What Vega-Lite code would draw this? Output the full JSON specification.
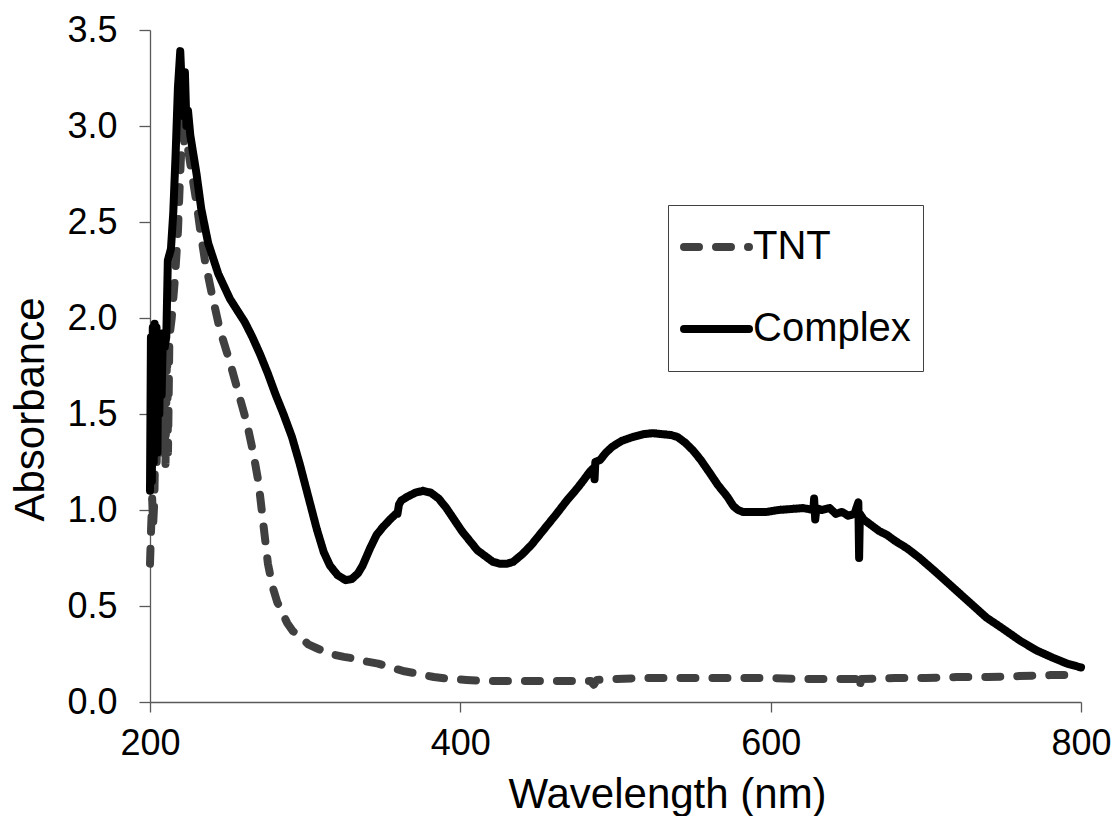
{
  "$schema": "https://vega.github.io/schema/vega-lite/v6.json",
  "width": 931,
  "height": 672,
  "autosize": "none",
  "padding": {"left": 150, "top": 30, "right": 36, "bottom": 114},
  "background": "white",
  "config": {
    "view": {"stroke": null},
    "font": "Liberation Sans",
    "axis": {
      "grid": false,
      "domainColor": "#595959",
      "domainWidth": 1.3,
      "tickColor": "#595959",
      "tickWidth": 1.3,
      "labelFont": "Liberation Sans",
      "labelFontSize": 36,
      "labelColor": "#000000",
      "labelFlush": false,
      "titleFont": "Liberation Sans",
      "titleFontSize": 42,
      "titleFontWeight": "normal",
      "titleColor": "#000000"
    }
  },
  "data": {
    "values": [
      {"s": "TNT", "wl": 200, "a": 0.72},
      {"s": "TNT", "wl": 200.7, "a": 0.9},
      {"s": "TNT", "wl": 201.4, "a": 1.06},
      {"s": "TNT", "wl": 202, "a": 0.92},
      {"s": "TNT", "wl": 202.8, "a": 1.05},
      {"s": "TNT", "wl": 203.5, "a": 1.45},
      {"s": "TNT", "wl": 204.3, "a": 1.25},
      {"s": "TNT", "wl": 205, "a": 1.65},
      {"s": "TNT", "wl": 206, "a": 1.3},
      {"s": "TNT", "wl": 207, "a": 1.8},
      {"s": "TNT", "wl": 208, "a": 1.28},
      {"s": "TNT", "wl": 209, "a": 1.86},
      {"s": "TNT", "wl": 210, "a": 1.24},
      {"s": "TNT", "wl": 211, "a": 1.86},
      {"s": "TNT", "wl": 211.6, "a": 1.3},
      {"s": "TNT", "wl": 212.5, "a": 1.9},
      {"s": "TNT", "wl": 214, "a": 2.0},
      {"s": "TNT", "wl": 216, "a": 2.2},
      {"s": "TNT", "wl": 218, "a": 2.45},
      {"s": "TNT", "wl": 219, "a": 2.66},
      {"s": "TNT", "wl": 220, "a": 2.85},
      {"s": "TNT", "wl": 221, "a": 3.02},
      {"s": "TNT", "wl": 222, "a": 2.92},
      {"s": "TNT", "wl": 223, "a": 2.97},
      {"s": "TNT", "wl": 224.5, "a": 2.88},
      {"s": "TNT", "wl": 227, "a": 2.75},
      {"s": "TNT", "wl": 230, "a": 2.6},
      {"s": "TNT", "wl": 232.5, "a": 2.45},
      {"s": "TNT", "wl": 235.4, "a": 2.3},
      {"s": "TNT", "wl": 240, "a": 2.12},
      {"s": "TNT", "wl": 245, "a": 1.94},
      {"s": "TNT", "wl": 251.5, "a": 1.77},
      {"s": "TNT", "wl": 257, "a": 1.61},
      {"s": "TNT", "wl": 262.5, "a": 1.45},
      {"s": "TNT", "wl": 266.5, "a": 1.3},
      {"s": "TNT", "wl": 270, "a": 1.14},
      {"s": "TNT", "wl": 273, "a": 0.93},
      {"s": "TNT", "wl": 276, "a": 0.72},
      {"s": "TNT", "wl": 279, "a": 0.6},
      {"s": "TNT", "wl": 282, "a": 0.52},
      {"s": "TNT", "wl": 285, "a": 0.47},
      {"s": "TNT", "wl": 288.5, "a": 0.41},
      {"s": "TNT", "wl": 292, "a": 0.37},
      {"s": "TNT", "wl": 297, "a": 0.34},
      {"s": "TNT", "wl": 302, "a": 0.3},
      {"s": "TNT", "wl": 307.5, "a": 0.28},
      {"s": "TNT", "wl": 316, "a": 0.25},
      {"s": "TNT", "wl": 325, "a": 0.235},
      {"s": "TNT", "wl": 333, "a": 0.225},
      {"s": "TNT", "wl": 340, "a": 0.21},
      {"s": "TNT", "wl": 347, "a": 0.2},
      {"s": "TNT", "wl": 355, "a": 0.18},
      {"s": "TNT", "wl": 364, "a": 0.16},
      {"s": "TNT", "wl": 374, "a": 0.145},
      {"s": "TNT", "wl": 383, "a": 0.13},
      {"s": "TNT", "wl": 393, "a": 0.12},
      {"s": "TNT", "wl": 404, "a": 0.115},
      {"s": "TNT", "wl": 415, "a": 0.11},
      {"s": "TNT", "wl": 430, "a": 0.11},
      {"s": "TNT", "wl": 450, "a": 0.11},
      {"s": "TNT", "wl": 470, "a": 0.11},
      {"s": "TNT", "wl": 484, "a": 0.11},
      {"s": "TNT", "wl": 486, "a": 0.09},
      {"s": "TNT", "wl": 488, "a": 0.115},
      {"s": "TNT", "wl": 500, "a": 0.12},
      {"s": "TNT", "wl": 520, "a": 0.125},
      {"s": "TNT", "wl": 540, "a": 0.125},
      {"s": "TNT", "wl": 560, "a": 0.125},
      {"s": "TNT", "wl": 580, "a": 0.125},
      {"s": "TNT", "wl": 600, "a": 0.125},
      {"s": "TNT", "wl": 620, "a": 0.12},
      {"s": "TNT", "wl": 640, "a": 0.12},
      {"s": "TNT", "wl": 655.5, "a": 0.12},
      {"s": "TNT", "wl": 657, "a": 0.07},
      {"s": "TNT", "wl": 658.5, "a": 0.12},
      {"s": "TNT", "wl": 680, "a": 0.125},
      {"s": "TNT", "wl": 700, "a": 0.125},
      {"s": "TNT", "wl": 720, "a": 0.13},
      {"s": "TNT", "wl": 740, "a": 0.13},
      {"s": "TNT", "wl": 760, "a": 0.135},
      {"s": "TNT", "wl": 780, "a": 0.14},
      {"s": "TNT", "wl": 800, "a": 0.14},
      {"s": "Complex", "wl": 200, "a": 1.1},
      {"s": "Complex", "wl": 200.6, "a": 1.9},
      {"s": "Complex", "wl": 201.2, "a": 1.15},
      {"s": "Complex", "wl": 201.8, "a": 1.95},
      {"s": "Complex", "wl": 202.4, "a": 1.25},
      {"s": "Complex", "wl": 203, "a": 1.97},
      {"s": "Complex", "wl": 203.6, "a": 1.35},
      {"s": "Complex", "wl": 204.2, "a": 1.95},
      {"s": "Complex", "wl": 204.8, "a": 1.3},
      {"s": "Complex", "wl": 205.4, "a": 1.92},
      {"s": "Complex", "wl": 206, "a": 1.5},
      {"s": "Complex", "wl": 206.6, "a": 1.9},
      {"s": "Complex", "wl": 207.5, "a": 1.6},
      {"s": "Complex", "wl": 208.3, "a": 1.92},
      {"s": "Complex", "wl": 209.5, "a": 1.85},
      {"s": "Complex", "wl": 210.5, "a": 1.9},
      {"s": "Complex", "wl": 211.5, "a": 2.3},
      {"s": "Complex", "wl": 212.5, "a": 2.33},
      {"s": "Complex", "wl": 213.5, "a": 2.36},
      {"s": "Complex", "wl": 215, "a": 2.55},
      {"s": "Complex", "wl": 216.5, "a": 2.85},
      {"s": "Complex", "wl": 218, "a": 3.2},
      {"s": "Complex", "wl": 219.5, "a": 3.39},
      {"s": "Complex", "wl": 220.5, "a": 3.2},
      {"s": "Complex", "wl": 221.5, "a": 3.05},
      {"s": "Complex", "wl": 222.5, "a": 3.28},
      {"s": "Complex", "wl": 223.5, "a": 3.0},
      {"s": "Complex", "wl": 224.5, "a": 3.08},
      {"s": "Complex", "wl": 226, "a": 2.95},
      {"s": "Complex", "wl": 228, "a": 2.85},
      {"s": "Complex", "wl": 230, "a": 2.75},
      {"s": "Complex", "wl": 233, "a": 2.57},
      {"s": "Complex", "wl": 237.5, "a": 2.39},
      {"s": "Complex", "wl": 244, "a": 2.23},
      {"s": "Complex", "wl": 251.5, "a": 2.1},
      {"s": "Complex", "wl": 257, "a": 2.03},
      {"s": "Complex", "wl": 261, "a": 1.98},
      {"s": "Complex", "wl": 266, "a": 1.9},
      {"s": "Complex", "wl": 271, "a": 1.81},
      {"s": "Complex", "wl": 276, "a": 1.71},
      {"s": "Complex", "wl": 281, "a": 1.6},
      {"s": "Complex", "wl": 286, "a": 1.5},
      {"s": "Complex", "wl": 291.5, "a": 1.38},
      {"s": "Complex", "wl": 296.5, "a": 1.24},
      {"s": "Complex", "wl": 302, "a": 1.07},
      {"s": "Complex", "wl": 307.5, "a": 0.9},
      {"s": "Complex", "wl": 312, "a": 0.78},
      {"s": "Complex", "wl": 316, "a": 0.71},
      {"s": "Complex", "wl": 321, "a": 0.66},
      {"s": "Complex", "wl": 326, "a": 0.635},
      {"s": "Complex", "wl": 330, "a": 0.64},
      {"s": "Complex", "wl": 334, "a": 0.67},
      {"s": "Complex", "wl": 337, "a": 0.71},
      {"s": "Complex", "wl": 341.8, "a": 0.8},
      {"s": "Complex", "wl": 346, "a": 0.87},
      {"s": "Complex", "wl": 350, "a": 0.91},
      {"s": "Complex", "wl": 354.6, "a": 0.95},
      {"s": "Complex", "wl": 358.5, "a": 0.98},
      {"s": "Complex", "wl": 359.5, "a": 0.98},
      {"s": "Complex", "wl": 360.5, "a": 1.03},
      {"s": "Complex", "wl": 362, "a": 1.05},
      {"s": "Complex", "wl": 366, "a": 1.07},
      {"s": "Complex", "wl": 371, "a": 1.09},
      {"s": "Complex", "wl": 376, "a": 1.1},
      {"s": "Complex", "wl": 381, "a": 1.09},
      {"s": "Complex", "wl": 386, "a": 1.06},
      {"s": "Complex", "wl": 391, "a": 1.01},
      {"s": "Complex", "wl": 396, "a": 0.95},
      {"s": "Complex", "wl": 401, "a": 0.89},
      {"s": "Complex", "wl": 406, "a": 0.84},
      {"s": "Complex", "wl": 411, "a": 0.79},
      {"s": "Complex", "wl": 416, "a": 0.76},
      {"s": "Complex", "wl": 421, "a": 0.73},
      {"s": "Complex", "wl": 425.5, "a": 0.72},
      {"s": "Complex", "wl": 430, "a": 0.72},
      {"s": "Complex", "wl": 434, "a": 0.73},
      {"s": "Complex", "wl": 440, "a": 0.77},
      {"s": "Complex", "wl": 446, "a": 0.82},
      {"s": "Complex", "wl": 451, "a": 0.87},
      {"s": "Complex", "wl": 456, "a": 0.92},
      {"s": "Complex", "wl": 462, "a": 0.98},
      {"s": "Complex", "wl": 468.7, "a": 1.05},
      {"s": "Complex", "wl": 474, "a": 1.1},
      {"s": "Complex", "wl": 478, "a": 1.14},
      {"s": "Complex", "wl": 483.5, "a": 1.2},
      {"s": "Complex", "wl": 486, "a": 1.22},
      {"s": "Complex", "wl": 486.5, "a": 1.16},
      {"s": "Complex", "wl": 487, "a": 1.25},
      {"s": "Complex", "wl": 490, "a": 1.26},
      {"s": "Complex", "wl": 494, "a": 1.3},
      {"s": "Complex", "wl": 498, "a": 1.33},
      {"s": "Complex", "wl": 504, "a": 1.36},
      {"s": "Complex", "wl": 511, "a": 1.38},
      {"s": "Complex", "wl": 518, "a": 1.395},
      {"s": "Complex", "wl": 524, "a": 1.4},
      {"s": "Complex", "wl": 530, "a": 1.395},
      {"s": "Complex", "wl": 536, "a": 1.39},
      {"s": "Complex", "wl": 540, "a": 1.38},
      {"s": "Complex", "wl": 545, "a": 1.35},
      {"s": "Complex", "wl": 550, "a": 1.31},
      {"s": "Complex", "wl": 555, "a": 1.26},
      {"s": "Complex", "wl": 561, "a": 1.19},
      {"s": "Complex", "wl": 566, "a": 1.13},
      {"s": "Complex", "wl": 572, "a": 1.07},
      {"s": "Complex", "wl": 576, "a": 1.02},
      {"s": "Complex", "wl": 579, "a": 1.0},
      {"s": "Complex", "wl": 582, "a": 0.99},
      {"s": "Complex", "wl": 590, "a": 0.99},
      {"s": "Complex", "wl": 597.5, "a": 0.99},
      {"s": "Complex", "wl": 605, "a": 1.0},
      {"s": "Complex", "wl": 613, "a": 1.005},
      {"s": "Complex", "wl": 621, "a": 1.01},
      {"s": "Complex", "wl": 627.5, "a": 1.0},
      {"s": "Complex", "wl": 628, "a": 1.06},
      {"s": "Complex", "wl": 628.7, "a": 0.95},
      {"s": "Complex", "wl": 629.5, "a": 1.01},
      {"s": "Complex", "wl": 633, "a": 1.0},
      {"s": "Complex", "wl": 638, "a": 1.01},
      {"s": "Complex", "wl": 642, "a": 0.98},
      {"s": "Complex", "wl": 646, "a": 0.99},
      {"s": "Complex", "wl": 650, "a": 0.97},
      {"s": "Complex", "wl": 654, "a": 0.98},
      {"s": "Complex", "wl": 656.5, "a": 1.04},
      {"s": "Complex", "wl": 657, "a": 0.75},
      {"s": "Complex", "wl": 657.5, "a": 0.98},
      {"s": "Complex", "wl": 660, "a": 0.95},
      {"s": "Complex", "wl": 665, "a": 0.92},
      {"s": "Complex", "wl": 670, "a": 0.89},
      {"s": "Complex", "wl": 675, "a": 0.87},
      {"s": "Complex", "wl": 680, "a": 0.84},
      {"s": "Complex", "wl": 688, "a": 0.8},
      {"s": "Complex", "wl": 696, "a": 0.75},
      {"s": "Complex", "wl": 706, "a": 0.68},
      {"s": "Complex", "wl": 717, "a": 0.6},
      {"s": "Complex", "wl": 728, "a": 0.52},
      {"s": "Complex", "wl": 739, "a": 0.44},
      {"s": "Complex", "wl": 750, "a": 0.38},
      {"s": "Complex", "wl": 760.6, "a": 0.32},
      {"s": "Complex", "wl": 771, "a": 0.27},
      {"s": "Complex", "wl": 782, "a": 0.23},
      {"s": "Complex", "wl": 791, "a": 0.2},
      {"s": "Complex", "wl": 800, "a": 0.18}
    ]
  },
  "mark": {"type": "line", "strokeWidth": 8, "strokeCap": "round", "strokeJoin": "round"},
  "encoding": {
    "x": {
      "field": "wl",
      "type": "quantitative",
      "scale": {"domain": [200, 800], "nice": false, "zero": false},
      "axis": {
        "title": "Wavelength (nm)",
        "values": [200, 400, 600, 800],
        "tickSize": 10,
        "labelPadding": 14,
        "titlePadding": 13,
        "titleX": 517
      }
    },
    "y": {
      "field": "a",
      "type": "quantitative",
      "scale": {"domain": [0, 3.5], "nice": false},
      "axis": {
        "title": "Absorbance",
        "values": [0, 0.5, 1, 1.5, 2, 2.5, 3, 3.5],
        "format": ".1f",
        "tickSize": 11,
        "labelPadding": 22,
        "titlePadding": 14,
        "titleY": 379
      }
    },
    "color": {
      "field": "s",
      "type": "nominal",
      "scale": {"domain": ["TNT", "Complex"], "range": ["#404040", "#000000"]},
      "legend": {
        "title": null,
        "orient": "none",
        "legendX": 518,
        "legendY": 175,
        "strokeColor": "#404040",
        "fillColor": "#ffffff",
        "padding": 12,
        "labelFontSize": 40,
        "labelColor": "#000000",
        "labelOffset": 0,
        "labelLimit": 400,
        "symbolType": "stroke",
        "symbolSize": 4225,
        "symbolStrokeWidth": 8,
        "symbolOffset": 0,
        "clipHeight": 60,
        "rowPadding": 22,
        "encode": {"symbols": {"update": {"strokeCap": {"value": "round"}}}}
      }
    },
    "strokeDash": {
      "field": "s",
      "type": "nominal",
      "scale": {"domain": ["TNT", "Complex"], "range": [[15, 17], [1, 0]]},
      "legend": {
        "title": null,
        "orient": "none",
        "legendX": 518,
        "legendY": 175,
        "strokeColor": "#404040",
        "fillColor": "#ffffff",
        "padding": 12,
        "labelFontSize": 40,
        "labelColor": "#000000",
        "labelOffset": 0,
        "labelLimit": 400,
        "symbolType": "stroke",
        "symbolSize": 4225,
        "symbolStrokeWidth": 8,
        "symbolOffset": 0,
        "clipHeight": 60,
        "rowPadding": 22,
        "encode": {"symbols": {"update": {"strokeCap": {"value": "round"}}}}
      }
    }
  }
}
